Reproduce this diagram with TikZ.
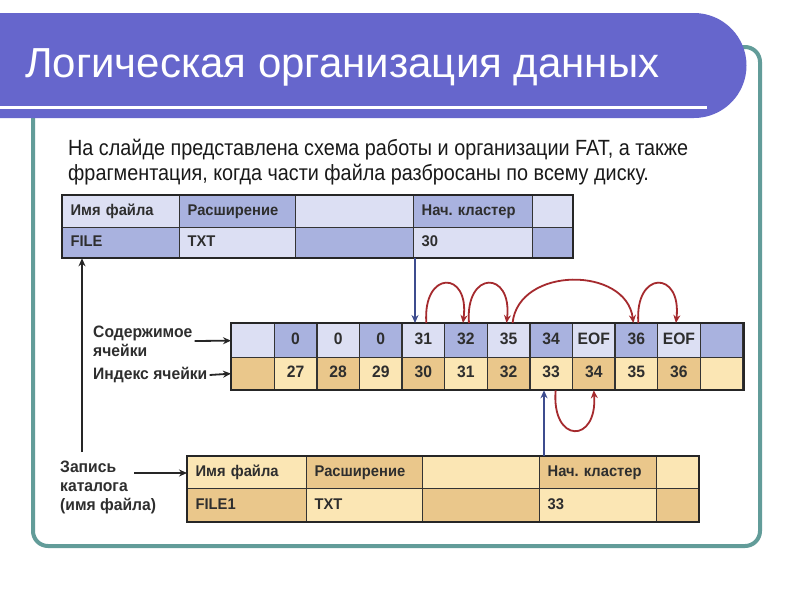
\documentclass[tikz,border=0pt]{standalone}
\usepackage{fontspec}
\setmainfont{Liberation Sans}
\newfontfamily\narrowfont[FakeStretch=0.9]{Liberation Sans}
\newfontfamily\condfont[FakeStretch=0.95]{Liberation Sans}
\usetikzlibrary{arrows.meta}
\frenchspacing
\definecolor{frameteal}{HTML}{629C99}
\definecolor{titlepurple}{HTML}{6666CC}
\definecolor{lavA}{HTML}{DCDFF3}
\definecolor{lavB}{HTML}{A9B2DF}
\definecolor{tanA}{HTML}{FBE6B4}
\definecolor{tanB}{HTML}{EAC78B}
\definecolor{celltxt}{HTML}{2E2E2E}
\definecolor{arcred}{HTML}{A52A2E}
\definecolor{arrblue}{HTML}{3D4C8E}
\newcommand\tcell[9]{%
  \pgfmathsetmacro\cellw{#4-#2}%
  \pgfmathsetmacro\cellh{#5-#3}%
  \pgfmathsetmacro\celltw{#4-#2-16}%
  \node[cellbox, fill=#6, anchor=north west, minimum width=\cellw pt,
        minimum height=\cellh pt, text width=\celltw pt, align=#7, #9] (#1) at (#2,#3) {#8};}
\begin{document}
\begin{tikzpicture}[x=1pt,y=-1pt,
  cellbox/.style={draw=black!80, line width=1.3pt, inner xsep=8pt, inner ysep=0pt,
     text height=11pt, text depth=3pt, text=celltxt},
  dirfont/.style={font=\condfont\fontsize{15.5}{17}\selectfont\bfseries},
  fatfont/.style={font=\condfont\fontsize{16.5}{18}\selectfont\bfseries,
     inner xsep=2pt, text width=38pt},
  lbl/.style={font=\condfont\fontsize{16.5}{19}\selectfont\bfseries, text=celltxt,
     inner sep=0pt, align=left},
  blkarrow/.style={draw=black!85, line width=1.8pt, -{Stealth[length=8pt,width=7pt]}},
  bluearrow/.style={draw=arrblue, line width=1.8pt, -{Stealth[length=8pt,width=7pt]}},
  redarc/.style={draw=arcred, line width=1.8pt, -{Stealth[length=8pt,width=7pt]}}]
\useasboundingbox (0,0) rectangle (800,600);
\fill[white] (0,0) rectangle (800,600);
% frame
\draw[frameteal, line width=4pt, rounded corners=15pt] (33,47) rectangle (760,546);
% title band
\fill[titlepurple] (0,13) -- (694,13) arc[start angle=-90, end angle=90, radius=52.5] -- (0,118) -- cycle;
\fill[white] (0,105.5) rectangle (707,108.5);
\node[anchor=base west, text=white, font=\fontsize{42}{44}\selectfont, inner sep=0pt] (title) at (25,77) {Логическая организация данных};
% body text
\node[anchor=base west, inner sep=0pt, font=\narrowfont\fontsize{22}{26}\selectfont, text=black!90] (body1) at (68,155) {На слайде представлена схема работы и организации FAT, а также};
\node[anchor=base west, inner sep=0pt, font=\narrowfont\fontsize{22}{26}\selectfont, text=black!90] (body2) at (68,180) {фрагментация, когда части файла разбросаны по всему диску.};
% top directory table
\tcell{tA1}{62}{195}{179}{227}{lavA}{left}{Имя файла}{dirfont}
\tcell{tA2}{179}{195}{295}{227}{lavB}{left}{Расширение}{dirfont}
\tcell{tA3}{295}{195}{413}{227}{lavA}{left}{}{dirfont}
\tcell{tA4}{413}{195}{532}{227}{lavB}{left}{Нач. кластер}{dirfont}
\tcell{tA5}{532}{195}{572}{227}{lavA}{left}{}{dirfont}
\tcell{tB1}{62}{227}{179}{257}{lavB}{left}{FILE}{dirfont}
\tcell{tB2}{179}{227}{295}{257}{lavA}{left}{TXT}{dirfont}
\tcell{tB3}{295}{227}{413}{257}{lavB}{left}{}{dirfont}
\tcell{tB4}{413}{227}{532}{257}{lavA}{left}{30}{dirfont}
\tcell{tB5}{532}{227}{572}{257}{lavB}{left}{}{dirfont}
\draw[black!85, line width=2pt] (tA1.north west) rectangle (tB5.south east);
% FAT table
\foreach \i/\cv/\iv in {0//,1/0/27,2/0/28,3/0/29,4/31/30,5/32/31,6/35/32,7/34/33,8/EOF/34,9/36/35,10/EOF/36,11//}{%
  \pgfmathsetmacro\xa{231+\i*42.6}%
  \pgfmathsetmacro\xb{231+(\i+1)*42.6}%
  \ifodd\i\def\fcA{lavB}\def\fcB{tanA}\else\def\fcA{lavA}\def\fcB{tanB}\fi
  \tcell{c\i}{\xa}{323}{\xb}{357}{\fcA}{center}{\cv}{fatfont}
  \tcell{i\i}{\xa}{357}{\xb}{389}{\fcB}{center}{\iv}{fatfont}
}
\draw[black!85, line width=2pt] (c0.north west) rectangle (i11.south east);
% bottom directory table
\tcell{bA1}{187}{456}{306}{488}{tanA}{left}{Имя файла}{dirfont}
\tcell{bA2}{306}{456}{422}{488}{tanB}{left}{Расширение}{dirfont}
\tcell{bA3}{422}{456}{539}{488}{tanA}{left}{}{dirfont}
\tcell{bA4}{539}{456}{656}{488}{tanB}{left}{Нач. кластер}{dirfont}
\tcell{bA5}{656}{456}{698}{488}{tanA}{left}{}{dirfont}
\tcell{bB1}{187}{488}{306}{521}{tanB}{left}{FILE1}{dirfont}
\tcell{bB2}{306}{488}{422}{521}{tanA}{left}{TXT}{dirfont}
\tcell{bB3}{422}{488}{539}{521}{tanB}{left}{}{dirfont}
\tcell{bB4}{539}{488}{656}{521}{tanA}{left}{33}{dirfont}
\tcell{bB5}{656}{488}{698}{521}{tanB}{left}{}{dirfont}
\draw[black!85, line width=2pt] (bA1.north west) rectangle (bB5.south east);
% labels
\node[lbl, anchor=west] (lblC) at (93,341) {Содержимое\\ячейки};
\node[lbl, anchor=west] (lblI) at (93,375) {Индекс ячейки};
\node[lbl, anchor=west] (lblZ) at (60,487) {Запись\\каталога\\(имя файла)};
\coordinate (zstart) at (134,473);
\coordinate (vstart) at (82,452);
\draw[blkarrow] ([xshift=2pt]lblC.east) -- (c0.west);
\draw[blkarrow] ([xshift=2pt]lblI.east) -- (i0.west);
\draw[blkarrow] (zstart) -- (zstart -| bA1.west);
\draw[blkarrow] (vstart) -- (vstart |- tB1.south);
% blue arrows
\draw[bluearrow] ([xshift=2pt]tB4.south west) -- ([xshift=2pt]tB4.south west |- c4.north);
\draw[bluearrow] ([xshift=5pt]bA4.north west) -- ([xshift=5pt]bA4.north west |- i7.south);
% red arcs
\draw[redarc] ([xshift=3pt]c4.north) .. controls ([xshift=-1pt]c4.north |- 0,270) and ([xshift=4pt]c5.north |- 0,270) .. ([xshift=-3pt]c5.north);
\draw[redarc] ([xshift=3pt]c5.north) .. controls ([xshift=-1pt]c5.north |- 0,270) and ([xshift=4pt]c6.north |- 0,270) .. ([xshift=-2pt]c6.north);
\draw[redarc] ([xshift=4pt]c6.north) .. controls ([xshift=10pt]c6.north |- 0,266) and ([xshift=-10pt]c9.north |- 0,266) .. ([xshift=-3pt]c9.north);
\draw[redarc] ([xshift=2pt]c9.north) .. controls ([xshift=-2pt]c9.north |- 0,270) and ([xshift=3pt]c10.north |- 0,270) .. ([xshift=-3pt]c10.north);
\draw[redarc] ([xshift=4.5pt]i7.south) .. controls ([xshift=0pt]i7.south |- 0,444) and ([xshift=4pt]i8.south |- 0,444) .. (i8.south);
\end{tikzpicture}
\end{document}
